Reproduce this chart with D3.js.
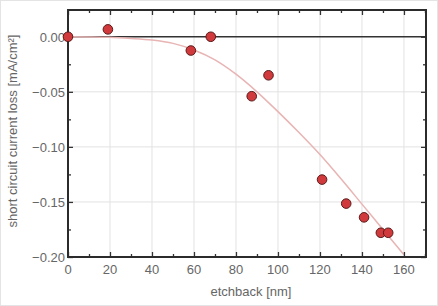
<!DOCTYPE html>
<html>
<head>
<meta charset="utf-8">
<script src="https://cdn.jsdelivr.net/npm/d3@7/dist/d3.min.js"></script>
<style>
  body { margin: 0; background: #fff; }
  svg { display: block; font-family: "Liberation Sans", Arial, sans-serif; }
</style>
</head>
<body>
<div id="chart"></div>
<script>
// measured points
var etchX = [0, 19, 58.5, 68, 87.5, 95.5, 121, 132.5, 141, 149, 152.5],
    lossY = [0, 0.0067, -0.0125, 0, -0.054, -0.035, -0.1297, -0.1515, -0.164, -0.178, -0.178];

// fit line
var fitX = [0, 20, 30, 40, 50, 60, 70, 80, 90, 100, 110, 120, 130, 140, 150, 160],
    fitY = [0, -0.0005, -0.0015, -0.003, -0.006, -0.012, -0.021, -0.034, -0.050, -0.068, -0.087, -0.107, -0.129, -0.152, -0.175, -0.198];

var xTicks = [0, 20, 40, 60, 80, 100, 120, 140, 160],
    yTicks = [0, -0.05, -0.10, -0.15, -0.20];

var W = 438, H = 306,
    m = {left: 68, right: 12, top: 10, bottom: 49};

var svg = d3.select('#chart').append('svg')
    .attr('width', W)
    .attr('height', H);

// faint frame round the picture
svg.append('rect')
    .attr('x', 0.5).attr('y', 0.5)
    .attr('width', W - 1).attr('height', H - 1)
    .attr('fill', '#fff')
    .attr('stroke', '#e4e4e4');

var x = d3.scaleLinear().domain([0, 170.5]).range([m.left, W - m.right]),
    y = d3.scaleLinear().domain([-0.2, 0.0243]).range([H - m.bottom, m.top]);

var g = svg.append('g');

// grid
g.selectAll('line.vg')
    .data(xTicks.filter(function (d) { return d > 0; }))
    .enter().append('line')
    .attr('x1', x).attr('x2', x)
    .attr('y1', y.range()[0]).attr('y2', y.range()[1])
    .attr('stroke', '#e2e2e2').attr('stroke-width', 1);
g.selectAll('line.hg')
    .data([-0.05, -0.10, -0.15])
    .enter().append('line')
    .attr('y1', y).attr('y2', y)
    .attr('x1', x.range()[0]).attr('x2', x.range()[1])
    .attr('stroke', '#e2e2e2').attr('stroke-width', 1);

// zero line
g.append('line')
    .attr('x1', x.range()[0]).attr('x2', x.range()[1])
    .attr('y1', y(0)).attr('y2', y(0))
    .attr('stroke', '#333').attr('stroke-width', 1.3);

// fit curve
var line = d3.line()
    .x(function (d) { return x(d[0]); })
    .y(function (d) { return y(d[1]); })
    .curve(d3.curveMonotoneX);
g.append('path')
    .datum(fitX.map(function (v, i) { return [v, fitY[i]]; }))
    .attr('d', line)
    .attr('fill', 'none')
    .attr('stroke', '#e8b4b4')
    .attr('stroke-width', 1.5);

// axes, ticks pointing in, mirrored on top/right
var xMinor = d3.range(0, 171, 10),
    yMinor = d3.range(-0.2, 0.026, 0.025);

function xAxis(ypx, flip) {
    var a = (flip ? d3.axisTop(x) : d3.axisBottom(x))
        .tickValues(xMinor)
        .tickSize(0)
        .tickFormat('');
    var ax = g.append('g').attr('transform', 'translate(0,' + ypx + ')').call(a);
    ax.select('.domain').remove();
    ax.selectAll('.tick line')
        .attr('y2', function (d) { return (d % 20 === 0 ? 5 : 3) * (flip ? 1 : -1); })
        .attr('stroke', '#333').attr('stroke-width', 1.3);
    return ax;
}
function yAxis(xpx, flip) {
    var a = (flip ? d3.axisRight(y) : d3.axisLeft(y))
        .tickValues(yMinor)
        .tickSize(0)
        .tickFormat('');
    var ax = g.append('g').attr('transform', 'translate(' + xpx + ',0)').call(a);
    ax.select('.domain').remove();
    ax.selectAll('.tick line')
        .attr('x2', function (d) {
            var major = Math.abs(Math.round(d * 1000) % 50) === 0;
            return (major ? 5 : 3) * (flip ? -1 : 1);
        })
        .attr('stroke', '#333').attr('stroke-width', 1.3);
    return ax;
}
xAxis(y.range()[0], false);
xAxis(y.range()[1], true);
yAxis(x.range()[0], false);
yAxis(x.range()[1], true);

// frame
g.append('rect')
    .attr('x', x.range()[0]).attr('y', y.range()[1])
    .attr('width', x.range()[1] - x.range()[0])
    .attr('height', y.range()[0] - y.range()[1])
    .attr('fill', 'none')
    .attr('stroke', '#2b2b2b')
    .attr('stroke-width', 2);

// tick labels
g.selectAll('text.xl')
    .data(xTicks)
    .enter().append('text')
    .attr('x', x)
    .attr('y', y.range()[0] + 17)
    .attr('text-anchor', 'middle')
    .attr('font-size', 13)
    .attr('fill', '#666')
    .text(function (d) { return d; });
g.selectAll('text.yl')
    .data(yTicks)
    .enter().append('text')
    .attr('x', x.range()[0] - 3)
    .attr('y', function (d) { return y(d) + 5; })
    .attr('text-anchor', 'end')
    .attr('font-size', 13)
    .attr('fill', '#666')
    .text(d3.format('.2f'));

// axis titles
svg.append('text')
    .attr('x', 251)
    .attr('y', 296)
    .attr('text-anchor', 'middle')
    .attr('font-size', 13)
    .attr('fill', '#666')
    .text('etchback [nm]');
svg.append('text')
    .attr('transform', 'translate(17,131) rotate(-90)')
    .attr('text-anchor', 'middle')
    .attr('font-size', 13)
    .attr('fill', '#666')
    .text('short circuit current loss [mA/cm²]');

// points
g.selectAll('circle')
    .data(etchX.map(function (v, i) { return [v, lossY[i]]; }))
    .enter().append('circle')
    .attr('cx', function (d) { return x(d[0]); })
    .attr('cy', function (d) { return y(d[1]); })
    .attr('r', 4.8)
    .attr('fill', '#d13a3c')
    .attr('stroke', '#5a1a1a')
    .attr('stroke-width', 1);
</script>
</body>
</html>
